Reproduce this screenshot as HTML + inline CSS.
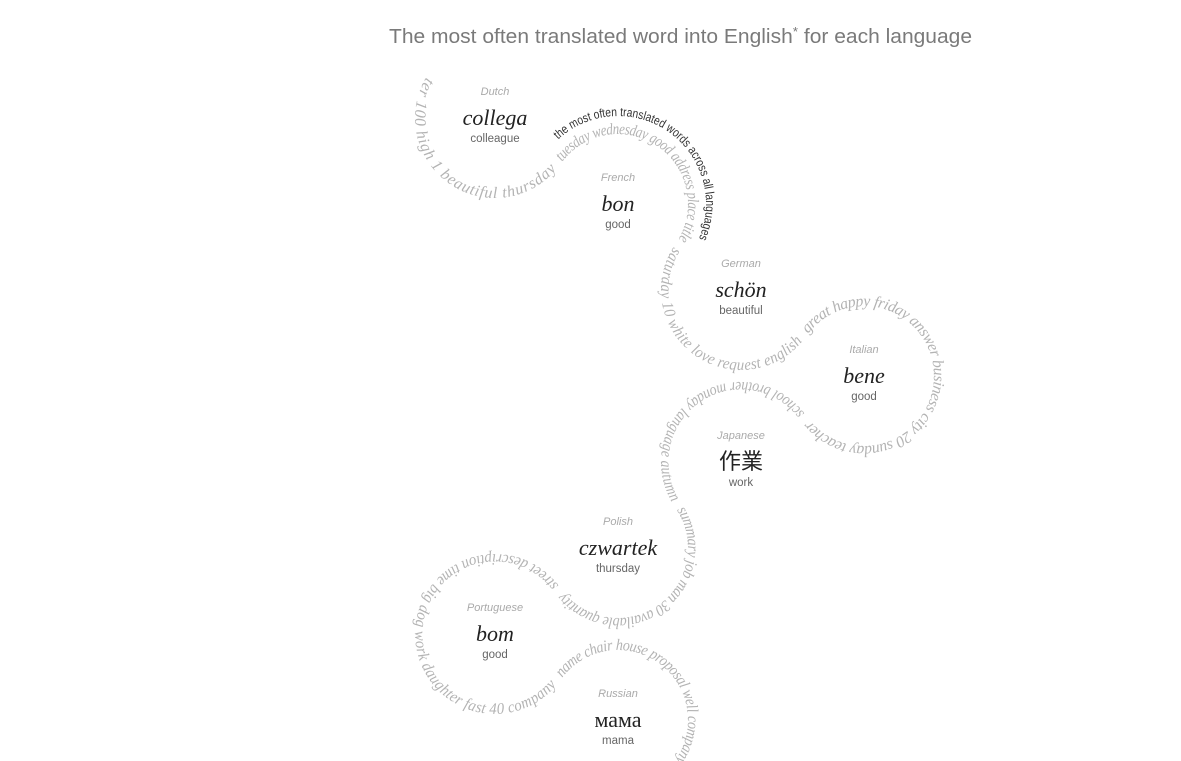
<!DOCTYPE html>
<html><head><meta charset="utf-8">
<style>
html,body{margin:0;padding:0;background:#fff;width:1181px;height:761px;overflow:hidden}
svg{display:block}
</style></head>
<body>
<svg id="chart" width="1181" height="761" viewBox="0 0 1181 761" xmlns="http://www.w3.org/2000/svg">
<text x="389" y="43" textLength="583" lengthAdjust="spacingAndGlyphs" font-family="Liberation Sans, sans-serif" font-size="20" fill="#7a7a7a">The most often translated word into English<tspan font-size="13" dy="-7">*</tspan><tspan dy="7"> for each language</tspan></text>
<g id="paths"></g>
<g id="cells"></g>
</svg>
<script>
const languages = ["Dutch","French","German","Italian","Japanese","Polish","Portuguese","Russian"];
const nativeWords = ["collega","bon","schön","bene","作業","czwartek","bom","мама"];
const translations = ["colleague","good","beautiful","good","work","thursday","good","mama"];
const topWordGroups = [
  "ter 100 high 1 beautiful thursday",
  "tuesday wednesday good address place title",
  "saturday 10 white love request english",
  "great happy friday answer business city 20 sunday teacher",
  "school brother monday language autumn",
  "summary job man 30 available quantity",
  "street description time big dog work daughter fast 40 company",
  "name chair house proposal well company"
];
const caption = "the most often translated words across all languages";

const svgNS = "http://www.w3.org/2000/svg";
const x0 = 495, y0 = 118, dx = 123, dy = 86, R = 75;
const cols = [0,1,2,3,2,1,0,1];
function cx(i){ return x0 + cols[i]*dx; }
function cy(i){ return y0 + i*dy; }
const arcs = [[213,35],[215,395],[215,35],[215,505],[325,145],[325,505],[325,35],[215,400]];

function arcPath(x,y,r,a0,a1){
  const n = 60; let d = "";
  for(let k=0;k<=n;k++){
    const a = (a0 + (a1-a0)*k/n)*Math.PI/180;
    d += (k? "L":"M") + (x + r*Math.cos(a)).toFixed(2) + " " + (y + r*Math.sin(a)).toFixed(2);
  }
  return d;
}
const pg = document.getElementById("paths");
const cg = document.getElementById("cells");
const defs = document.createElementNS(svgNS,"defs");
pg.appendChild(defs);

languages.forEach((lang,i)=>{
  const [a0,a1] = arcs[i];
  const p = document.createElementNS(svgNS,"path");
  p.setAttribute("id","arc"+i);
  p.setAttribute("d", arcPath(cx(i),cy(i),R,a0,a1));
  defs.appendChild(p);
  const len = Math.abs(a1-a0)*Math.PI/180*R;
  const t = document.createElementNS(svgNS,"text");
  
  
  t.setAttribute("font-family","Liberation Serif, serif");
  t.setAttribute("font-style","italic");
  t.setAttribute("font-size","16");
  t.setAttribute("fill","#b3b3b3");
  t.setAttribute("dominant-baseline","central");
  const tp = document.createElementNS(svgNS,"textPath");
  tp.setAttribute("href","#arc"+i);
  tp.setAttribute("startOffset","3");
  tp.textContent = topWordGroups[i];
  t.appendChild(tp);
  pg.appendChild(t);
  const target = len-9;
  let natural = 0;
  try { natural = tp.getComputedTextLength(); } catch(e) {}
  tp.setAttribute("textLength",target.toFixed(1));
  tp.setAttribute("lengthAdjust", natural > target ? "spacingAndGlyphs" : "spacing");

  const g = document.createElementNS(svgNS,"g");
  
  
  const l = document.createElementNS(svgNS,"text");
  
  
  l.setAttribute("x",cx(i)); l.setAttribute("y",cy(i)-23);
  l.setAttribute("text-anchor","middle");
  l.setAttribute("font-family","Liberation Sans, sans-serif");
  l.setAttribute("font-style","italic");
  l.setAttribute("font-size","11"); l.setAttribute("fill","#aaa");
  l.textContent = lang; g.appendChild(l);
  const w = document.createElementNS(svgNS,"text");
  
  
  w.setAttribute("x",cx(i)); w.setAttribute("y",cy(i)+7);
  w.setAttribute("text-anchor","middle");
  w.setAttribute("font-family", i===4 ? "Noto Sans CJK JP, sans-serif" : "Liberation Serif, serif");
  w.setAttribute("font-style", i===4||i===7 ? "normal" : "italic");
  w.setAttribute("font-size", "22"); w.setAttribute("fill","#222");
  w.textContent = nativeWords[i]; g.appendChild(w);
  const tr = document.createElementNS(svgNS,"text");
  
  
  tr.setAttribute("x",cx(i)); tr.setAttribute("y",cy(i)+24);
  tr.setAttribute("text-anchor","middle");
  tr.setAttribute("font-family","Liberation Sans, sans-serif");
  tr.setAttribute("font-size","11.5"); tr.setAttribute("fill","#666");
  tr.textContent = translations[i]; g.appendChild(tr);
  cg.appendChild(g);
});

const cp = document.createElementNS(svgNS,"path");
cp.setAttribute("id","captionArc");
cp.setAttribute("d", arcPath(cx(1),cy(1),88,227,385));
defs.appendChild(cp);
const ct = document.createElementNS(svgNS,"text");


ct.setAttribute("font-family","Liberation Sans, sans-serif");
ct.setAttribute("font-size","12.5"); ct.setAttribute("fill","#333");
const ctp = document.createElementNS(svgNS,"textPath");
ctp.setAttribute("href","#captionArc");
ctp.setAttribute("textLength","240");
ctp.setAttribute("lengthAdjust","spacingAndGlyphs");
ctp.textContent = caption;
ct.appendChild(ctp);
pg.appendChild(ct);
</script>
</body></html>
